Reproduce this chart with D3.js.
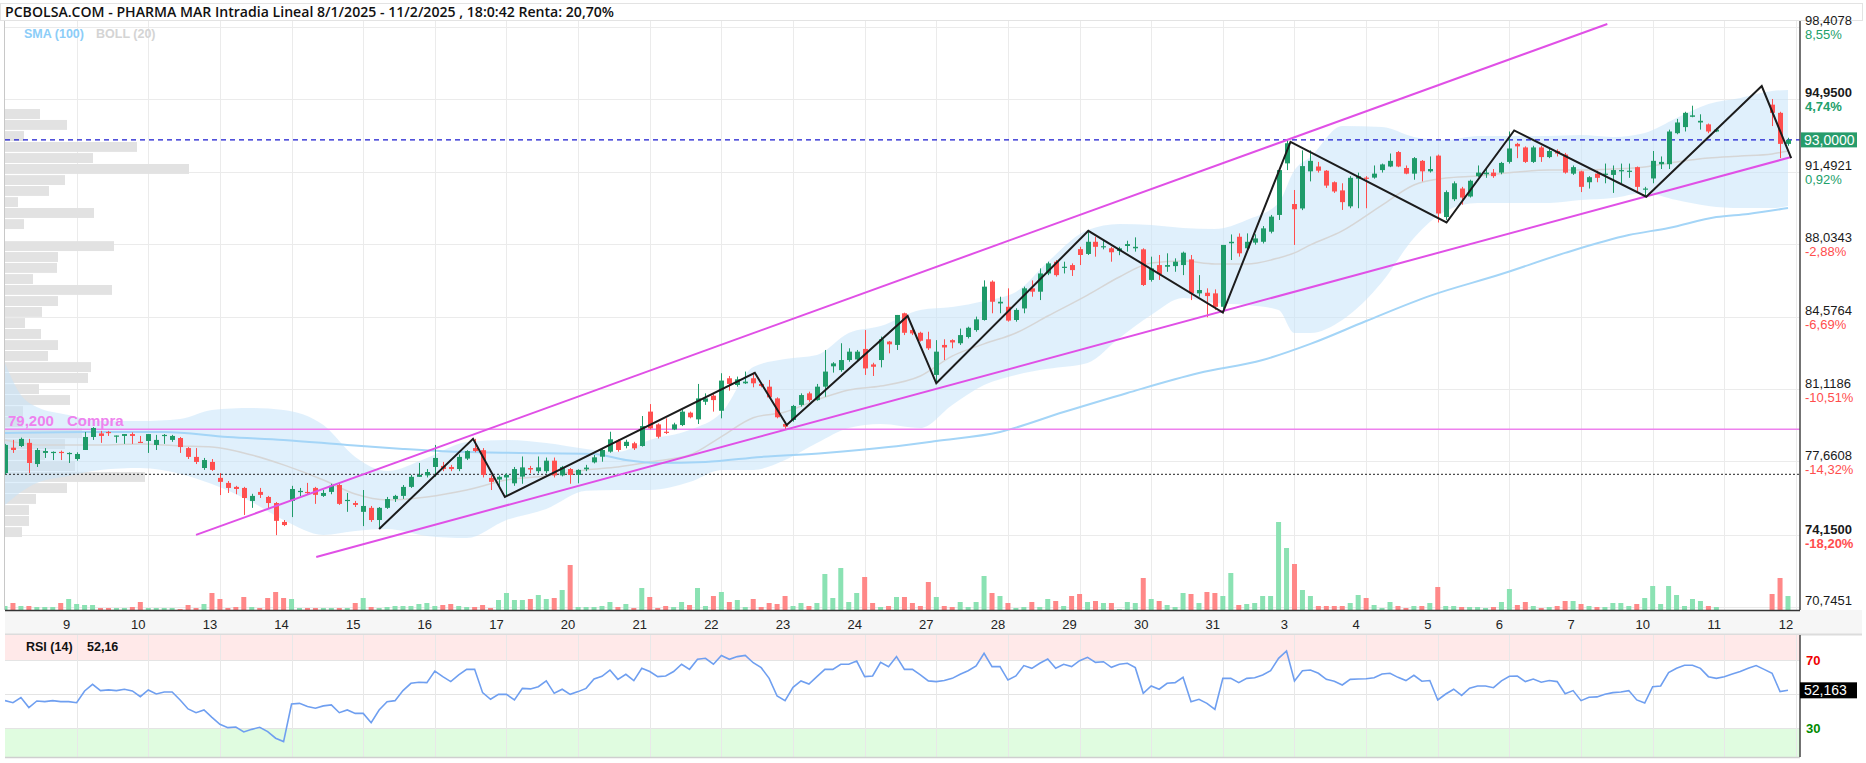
<!DOCTYPE html>
<html>
<head>
<meta charset="utf-8">
<script src="https://cdn.jsdelivr.net/npm/d3@7"></script>
<style>
  body { margin: 0; background: #fff; }
  svg { display: block; font-family: "Liberation Sans", Arial, sans-serif; }
</style>
</head>
<body>
<div id="container"><svg></svg></div>
<script>
// ---- data (hourly candles, 9 per session, 8/1/2025 .. 11/2/2025) ----
const dayLabels = ["9","10","13","14","15","16","17","20","21","22","23","24","27","28","29","30","31","3","4","5","6","7","10","11","12"];

const opens = [
  77.11,78.32,78.40,78.55,77.54,78.07,78.10,78.12,78.02,
  77.78,78.21,78.83,79.00,79.07,78.88,78.88,78.97,78.60,
  78.64,78.45,78.90,78.69,78.78,78.30,77.88,77.35,77.64,
  76.88,76.64,76.45,76.40,75.78,76.21,75.97,75.68,74.78,
  75.78,76.20,76.21,76.40,76.02,76.21,76.54,75.78,75.68,
  75.26,75.45,74.87,75.45,75.87,76.02,76.45,76.93,77.00,
  77.40,77.45,77.40,77.30,77.80,78.30,78.20,76.88,76.80,
  76.90,76.62,76.94,77.35,77.20,77.20,77.70,77.00,77.30,
  77.02,77.29,77.62,77.89,78.13,78.65,78.40,78.53,78.40,
  80.04,79.43,79.08,79.19,79.40,79.99,79.67,80.51,80.80,
  80.08,81.63,81.31,81.39,81.63,81.36,81.23,80.67,79.45,
  79.64,80.36,80.91,80.59,81.23,82.20,82.02,82.50,82.53,
  83.03,82.29,82.50,83.38,83.22,84.73,83.93,83.80,83.49,
  81.79,83.22,83.45,83.30,83.60,83.93,84.41,86.24,85.20,
  85.04,84.41,84.96,85.92,85.76,86.63,87.19,86.90,87.03,
  87.79,87.56,88.14,87.90,87.83,87.70,87.94,87.83,87.78,
  86.32,87.03,86.95,86.98,87.03,87.30,85.68,85.71,85.68,
  85.04,88.07,88.38,87.83,88.10,88.14,88.62,89.42,91.88,
  89.94,89.73,91.50,91.73,91.53,90.98,90.59,89.83,91.15,
  91.20,91.20,91.56,91.73,92.42,91.66,91.39,92.00,91.50,
  92.25,89.32,90.17,90.68,90.30,91.27,91.36,91.44,91.44,
  91.95,92.81,92.64,91.95,92.64,92.18,92.47,92.30,91.39,
  91.50,90.98,91.39,91.33,91.33,91.50,91.50,91.70,90.64,
  91.16,91.84,91.84,93.32,93.61,94.10,93.83,93.74,93.40,
  null,null,null,null,null,null,94.68,94.29,92.81
];
const highs = [
  78.50,78.69,78.80,78.74,78.30,78.30,78.14,78.18,78.10,
  78.10,79.07,79.30,79.12,79.12,78.90,78.97,79.05,78.88,
  78.97,78.93,78.97,78.93,78.83,78.35,78.30,77.83,77.78,
  77.11,76.73,76.50,76.45,76.12,76.40,76.02,75.73,74.87,
  76.50,76.40,76.64,76.45,76.30,76.60,76.64,76.16,75.78,
  76.30,75.54,75.49,75.97,76.07,76.54,77.02,77.59,77.30,
  78.45,77.64,77.50,78.00,78.20,78.74,78.30,77.00,77.00,
  77.10,77.40,77.90,77.45,77.90,77.85,77.85,77.45,77.35,
  77.29,77.50,77.97,78.29,79.08,78.72,78.70,78.60,79.83,
  80.40,79.48,79.72,79.51,80.12,80.04,81.36,80.91,80.91,
  81.87,81.74,81.71,81.95,81.90,81.42,81.55,80.72,79.56,
  80.36,80.91,80.99,81.36,82.98,82.40,83.30,83.06,82.98,
  83.93,82.37,83.62,83.41,84.65,84.76,84.00,83.85,83.85,
  83.45,83.49,83.49,84.00,84.09,84.57,86.30,86.30,85.52,
  85.92,84.97,86.00,86.30,86.87,87.19,87.27,87.19,87.11,
  87.90,88.62,88.38,88.25,87.90,87.90,88.19,88.35,87.83,
  87.43,87.51,87.59,87.35,87.67,87.51,86.55,85.92,85.87,
  87.99,88.49,88.54,88.54,88.50,88.89,89.42,91.64,93.00,
  90.61,92.50,92.50,91.95,91.56,91.02,90.93,91.27,91.44,
  91.27,91.78,91.87,92.35,92.47,91.78,92.18,92.04,92.21,
  92.30,90.59,91.02,90.76,91.10,91.78,91.61,91.61,91.95,
  93.40,92.86,92.69,92.72,92.72,92.59,92.55,92.38,91.78,
  91.53,91.27,91.53,91.87,91.78,91.87,91.87,91.73,90.76,
  92.47,92.21,93.49,94.00,94.34,94.63,94.22,93.78,93.57,
  null,null,null,null,null,null,94.95,94.34,93.10
];
const lows = [
  77.05,78.07,78.35,77.11,77.40,77.83,77.73,77.73,77.59,
  77.70,78.21,78.69,78.55,78.88,78.55,78.50,78.50,78.55,
  78.07,78.21,78.50,78.60,78.07,77.78,77.54,77.26,77.21,
  76.06,76.16,76.10,75.11,75.45,75.92,75.40,74.15,74.58,
  75.01,76.00,76.07,75.64,75.97,76.10,75.59,75.26,75.49,
  74.58,74.78,74.49,75.40,75.73,75.88,76.40,76.93,76.90,
  76.93,77.20,77.20,77.20,77.73,78.10,76.90,76.30,76.40,
  75.97,76.50,76.60,77.10,77.10,77.10,76.90,76.95,76.60,
  76.62,77.20,77.57,77.65,78.08,78.13,78.29,78.21,78.37,
  79.19,78.76,78.97,79.16,79.35,79.72,79.45,80.36,80.04,
  79.72,81.04,81.23,81.36,81.20,81.20,80.67,79.72,79.20,
  79.56,80.28,80.51,80.56,80.75,81.90,81.94,82.42,82.42,
  81.79,81.74,82.15,82.82,82.98,83.69,83.69,83.38,82.98,
  81.39,82.50,83.06,83.22,83.53,83.85,84.38,84.73,84.73,
  84.33,84.33,84.73,85.52,85.36,86.55,86.48,86.63,86.51,
  87.03,87.51,87.43,87.78,87.19,87.50,87.67,87.67,86.03,
  86.24,86.32,86.71,86.71,86.55,85.36,85.52,84.54,84.89,
  84.76,87.27,87.43,87.75,88.00,88.06,88.54,89.18,91.56,
  87.99,89.65,91.02,91.44,90.71,90.47,89.66,89.74,89.74,
  89.74,91.15,91.44,91.70,91.70,91.36,91.10,91.02,91.44,
  89.06,89.18,90.08,89.91,90.25,91.22,91.19,91.19,91.36,
  91.87,92.13,91.90,91.90,91.95,92.13,92.21,91.39,91.33,
  90.51,90.68,90.98,90.93,90.47,90.93,91.19,90.51,90.34,
  90.93,91.61,91.61,93.27,93.40,94.08,93.49,93.32,93.37,
  null,null,null,null,null,null,93.66,92.13,92.72
];
const closes = [
  78.45,78.21,78.74,77.59,78.21,78.16,78.12,78.10,78.07,
  78.02,78.83,79.26,78.88,79.04,78.90,78.97,78.88,78.59,
  78.97,78.69,78.93,78.88,78.35,77.88,77.64,77.73,77.26,
  76.69,76.40,76.35,75.92,76.02,76.07,75.68,74.83,74.63,
  76.35,76.26,76.16,76.07,76.16,76.50,75.64,75.83,75.59,
  75.54,74.87,75.45,75.87,76.02,76.45,76.93,77.02,77.16,
  77.83,77.30,77.30,77.88,78.16,78.16,77.02,76.69,76.93,
  77.02,77.30,77.38,77.28,77.38,77.70,77.00,77.40,77.02,
  77.26,77.37,77.86,78.21,78.72,78.21,78.60,78.29,79.35,
  79.24,78.84,79.03,79.43,80.04,79.77,80.67,80.67,80.59,
  81.52,81.36,81.58,81.47,81.39,81.26,80.72,79.77,79.32,
  80.31,80.83,80.59,81.23,81.95,82.34,82.50,82.90,82.90,
  82.10,82.18,83.49,83.25,84.65,83.80,83.77,83.42,83.06,
  82.90,83.10,83.34,83.69,84.04,84.44,86.00,85.28,85.28,
  84.38,84.89,85.92,85.76,86.63,87.11,86.55,86.95,86.79,
  87.51,88.14,87.90,87.93,87.64,87.83,88.03,87.90,86.08,
  86.87,86.60,87.03,87.19,87.62,85.68,85.84,85.55,85.04,
  87.99,88.14,87.59,88.14,88.30,88.78,89.34,91.56,92.84,
  89.69,91.75,92.00,91.53,90.82,90.54,90.03,91.19,91.27,
  91.15,91.39,91.83,92.00,91.73,91.39,92.13,91.50,91.61,
  89.49,90.51,90.93,90.25,91.05,91.44,91.44,91.27,91.90,
  92.59,92.69,91.95,92.64,92.18,92.47,92.35,91.44,91.70,
  90.76,91.22,91.19,91.39,91.56,91.56,91.53,90.76,90.68,
  92.00,91.95,93.40,93.83,94.29,94.17,93.91,93.40,93.49,
  null,null,null,null,null,null,94.29,92.81,93.00
];
const volumes = [
  4,7,4,4,3,3,3,7,11,
  6,5,5,2,2,2,2,3,8,
  2,2,2,2,1,5,2,6,17,
  11,2,3,13,3,2,12,18,12,
  11,2,2,2,2,2,2,2,7,
  12,3,2,3,4,4,4,6,7,
  4,5,6,4,3,3,5,2,10,
  17,10,10,11,15,11,12,20,45,
  3,3,3,4,8,3,6,2,22,
  13,2,4,3,8,5,22,4,14,
  18,8,10,3,11,3,7,6,14,
  4,7,4,7,36,12,42,8,17,
  33,7,3,4,13,13,7,4,28,
  13,4,3,8,3,8,34,17,14,
  7,2,3,8,3,11,9,4,14,
  16,8,9,7,7,1,8,7,32,
  11,9,5,3,17,16,7,18,17,
  14,37,5,6,7,14,14,88,62,
  46,20,14,4,4,4,4,7,15,
  12,5,2,8,4,2,4,4,7,
  23,4,4,3,3,3,2,3,8,
  21,5,8,4,2,3,4,9,9,
  6,4,3,3,7,7,4,6,12,
  24,6,24,15,4,11,9,4,3,
  null,null,null,null,null,null,16,32,14
];
const rsi = [
  46.1,44.9,47.9,42.0,45.9,45.5,46.1,45.5,45.5,
  44.9,51.8,55.7,52.0,52.4,52.0,52.8,51.8,48.4,
  52.4,50.0,51.2,51.2,46.5,41.2,39.0,40.6,36.3,
  32.2,30.2,30.6,27.7,29.2,30.4,27.9,24.0,22.0,
  44.1,44.5,42.6,41.6,43.0,43.6,39.0,40.6,38.6,
  38.6,33.1,40.6,45.5,46.1,52.0,56.3,56.9,56.7,
  63.5,60.2,57.3,61.2,64.5,64.5,50.8,46.9,49.8,
  49.8,46.5,53.3,53.0,54.3,57.7,50.4,52.8,49.8,
  51.4,53.3,58.8,60.4,64.1,58.6,61.6,57.9,65.1,
  63.2,60.2,60.6,63.2,67.5,64.5,70.4,71.0,67.5,
  72.6,70.4,72.0,72.7,68.4,65.5,59.2,48.8,46.1,
  53.9,57.7,55.9,60.2,64.5,64.5,67.5,67.5,69.4,
  60.2,60.6,68.6,66.1,72.0,64.5,64.5,61.2,57.7,
  57.3,57.9,59.2,61.6,63.7,66.5,73.9,66.1,66.1,
  58.2,60.6,66.7,65.1,68.1,70.6,65.1,67.5,66.1,
  69.6,71.6,68.6,69.0,65.7,67.5,68.1,65.5,50.4,
  54.7,52.8,56.3,56.7,59.8,45.5,46.9,44.5,41.0,
  59.2,59.2,56.7,59.2,59.6,61.2,63.7,71.0,75.3,
  57.7,63.7,64.1,62.2,58.6,57.5,55.3,58.6,58.8,
  59.0,59.6,61.8,62.2,59.8,57.9,61.0,57.5,57.9,
  46.5,50.0,52.8,49.2,53.4,54.7,54.7,53.7,57.7,
  60.4,60.6,57.3,58.8,56.9,57.9,57.3,50.2,52.0,
  46.1,48.1,48.3,49.8,50.8,51.2,52.0,46.5,44.7,
  54.3,54.7,62.6,65.1,66.9,66.9,65.1,60.2,59.2,
  60.2,61.8,63.2,65.1,66.7,64.5,62.2,51.4,52.16
];

// bollinger (20) and sma (100), read at sample bars
const bbIdx = [0,2,4,8,12,17,22,26,31,35,40,44,48,53,58,63,68,73,77,81,86,90,94,98,102,106,110,115,119,123,127,131,136,140,144,148,152,156,160,162,164,168,173,177,181,185,190,194,198,202,206,210,214,218,222,224];
const bbUpper = [82.36,80.83,80.26,79.88,79.59,79.59,79.69,80.12,80.21,80.12,79.40,77.88,77.21,77.83,78.59,78.69,78.54,78.26,78.12,78.69,79.16,79.98,82.17,82.55,82.74,83.79,84.12,84.89,85.03,85.32,85.75,87.18,88.70,88.99,88.94,88.80,88.75,89.18,89.99,91.56,92.18,93.66,93.61,93.14,92.99,93.19,93.19,93.19,93.23,93.14,93.33,94.04,94.71,95.00,95.33,95.38];
const bbMid = [78.69,78.54,78.45,78.45,78.45,78.50,78.40,78.35,77.97,77.50,76.78,76.11,75.83,75.97,76.30,76.78,76.97,77.26,77.40,77.64,77.97,78.85,79.75,80.02,80.60,81.07,81.26,81.74,82.69,83.27,83.79,84.60,85.60,86.46,87.13,87.22,87.08,87.08,87.37,87.61,87.99,88.66,89.89,90.85,91.18,91.28,91.47,91.56,91.56,91.61,91.71,91.95,92.14,92.23,92.33,92.47];
const bbLower = [75.59,76.21,76.64,76.97,77.26,77.35,77.07,76.59,75.73,74.87,74.16,74.35,74.44,74.11,74.01,74.87,75.40,76.26,76.30,76.30,76.68,77.26,77.26,77.73,78.54,79.26,79.45,79.26,80.36,81.31,81.79,82.08,82.36,83.55,84.65,85.46,85.22,85.13,84.89,83.79,83.79,84.41,86.22,88.32,89.61,89.99,89.99,89.99,90.13,90.23,90.47,90.13,89.85,89.75,89.75,89.85];
const smaIdx = [0,10,20,28,35,43,50,57,65,74,78,82,88,95,103,111,117,125,133,141,150,158,164,171,179,188,196,204,209,215,219,224];
const smaVal = [79.02,79.07,79.07,78.83,78.69,78.45,78.26,78.12,78.07,78.02,77.73,77.59,77.64,77.88,78.07,78.35,78.64,79.07,80.02,80.93,81.88,82.50,83.27,84.36,85.56,86.60,87.61,88.46,88.80,89.32,89.47,89.75];

// hand drawn lines
const zigIdx = [47,58.8,62.8,94.2,98.2,113.4,117,136.1,153,161.5,181.1,189.6,206.2,220.7,224.4];
const zigVal = [74.44,78.74,75.97,81.89,79.40,84.60,81.39,88.66,84.76,92.91,89.06,93.45,90.29,95.57,92.13];
const chanUpIdx = [24.0, 201.3], chanUpVal = [74.16, 98.53];
const chanLoIdx = [39.1, 224.4], chanLoVal = [73.11, 92.18];

// volume at price (left side)
const profLevels = [94.47,93.95,93.42,92.90,92.37,91.85,91.32,90.80,90.27,89.75,89.22,88.70,88.17,87.65,87.13,86.60,86.08,85.55,85.03,84.50,83.98,83.45,82.93,82.40,81.88,81.35,80.83,80.30,79.78,79.25,78.73,78.21,77.68,77.16,76.63,76.11,75.58,75.06,74.53];
const profVol = [35,62,19,132,88,184,60,44,13,89,19,0,109,53,52,28,107,53,37,20,36,53,43,86,83,34,65,18,18,77,60,40,70,140,62,31,24,24,17];

// price axis
const tickVals = [98.4078,94.95,91.4921,88.0343,84.5764,81.1186,77.6608,74.15,70.7451];
const tickText = ["98,4078","94,9500","91,4921","88,0343","84,5764","81,1186","77,6608","74,1500","70,7451"];
const tickPct = ["8,55%","4,74%","0,92%","-2,88%","-6,69%","-10,51%","-14,32%","-18,20%","-21,96%"];
const tickBold = [false,true,false,false,false,false,false,true,false];

const lastPrice = 93.0, buyLevel = 79.2, startPrice = 77.05, rsiLast = 52.163;
const title = "PCBOLSA.COM - PHARMA MAR Intradia Lineal 8/1/2025 - 11/2/2025 , 18:0:42 Renta: 20,70%";

// ---- layout ----
const width = 1866, height = 763;
const L = 5, R = 1800, T = 21, B = 610;
const rsiTop = 635, rsiBottom = 757;

let x = d3.scaleLinear().domain([0, 224]).range([5, 1788]);
let y = d3.scaleLinear().domain([70.7451, 98.4078]).range([606.5, 26.5]);
let yVol = d3.scaleLinear().domain([0, 88]).range([B, B - 88]);
let yRsi = d3.scaleLinear().domain([30, 70]).range([728, 660]);
let xProf = d3.scaleLinear().domain([0, 184]).range([L, L + 184]);

const upColor = '#1f9b69', downColor = '#ff4f4f';
const upVol = '#8be2b3', downVol = '#ff8888';

let svg = d3.select('#container').select('svg')
    .attr('width', width)
    .attr('height', height);

let defs = svg.append('defs');
defs.append('clipPath').attr('id', 'plot')
    .append('rect').attr('x', L).attr('y', T).attr('width', R - L).attr('height', B - T);
defs.append('clipPath').attr('id', 'rsiclip')
    .append('rect').attr('x', L).attr('y', rsiTop).attr('width', R - L).attr('height', rsiBottom - rsiTop);

// title strip
svg.append('rect')
    .attr('x', 0.5).attr('y', 3.5).attr('width', 1862).attr('height', 17)
    .attr('fill', '#fff').attr('stroke', '#e3e3e3');
svg.append('text')
    .attr('x', 5).attr('y', 17)
    .attr('font-family', '"Open Sans", "Noto Sans", sans-serif')
    .attr('font-weight', 600)
    .attr('font-size', 14.1)
    .attr('fill', '#111')
    .text(title);

// grid
let grid = svg.append('g').attr('stroke', '#ebebeb').attr('stroke-width', 1);
dayLabels.forEach((d, k) => {
    let gx = Math.round(x(9 * (k + 1))) + 0.5;
    grid.append('line').attr('x1', gx).attr('x2', gx).attr('y1', T).attr('y2', B);
});
tickVals.forEach(v => {
    let gy = Math.round(y(v)) + 0.5;
    grid.append('line').attr('x1', L).attr('x2', R).attr('y1', gy).attr('y2', gy);
});

// volume profile
let plot = svg.append('g').attr('clip-path', 'url(#plot)');
let binH = y(profLevels[1]) - y(profLevels[0]);
plot.append('g')
    .selectAll('rect')
    .data(profLevels)
    .join('rect')
    .attr('x', L)
    .attr('y', d => y(d))
    .attr('width', (d, i) => xProf(profVol[i]) - L)
    .attr('height', binH - 1)
    .attr('fill', '#e2e2e2');

// bollinger band
let bb = bbIdx.map((d, i) => ({ i: d, u: bbUpper[i], m: bbMid[i], l: bbLower[i] }));
plot.append('path')
    .datum(bb)
    .attr('fill', '#c6e4f9')
    .attr('fill-opacity', 0.55)
    .attr('d', d3.area().x(d => x(d.i)).y0(d => y(d.l)).y1(d => y(d.u)).curve(d3.curveMonotoneX));
plot.append('path')
    .datum(bb)
    .attr('fill', 'none')
    .attr('stroke', '#d6d6d6')
    .attr('stroke-width', 1.5)
    .attr('d', d3.line().x(d => x(d.i)).y(d => y(d.m)).curve(d3.curveMonotoneX));

// sma 100
plot.append('path')
    .datum(smaIdx.map((d, i) => ({ i: d, v: smaVal[i] })))
    .attr('fill', 'none')
    .attr('stroke', '#a4d5f7')
    .attr('stroke-width', 2)
    .attr('d', d3.line().x(d => x(d.i)).y(d => y(d.v)).curve(d3.curveMonotoneX));

// level lines
plot.append('line')
    .attr('x1', L).attr('x2', R).attr('y1', y(buyLevel)).attr('y2', y(buyLevel))
    .attr('stroke', '#ee82ee').attr('stroke-width', 1.5);
plot.append('line')
    .attr('x1', L).attr('x2', R).attr('y1', y(startPrice)).attr('y2', y(startPrice))
    .attr('stroke', '#222').attr('stroke-width', 1).attr('stroke-dasharray', '2,2');
plot.append('line')
    .attr('x1', L).attr('x2', R).attr('y1', y(lastPrice)).attr('y2', y(lastPrice))
    .attr('stroke', '#1a1ad0').attr('stroke-width', 1.2).attr('stroke-dasharray', '5,4');

// volume bars
let bars = d3.range(opens.length).filter(i => opens[i] != null);
plot.append('g')
    .selectAll('rect')
    .data(bars)
    .join('rect')
    .attr('x', i => x(i) - 2.5)
    .attr('y', i => yVol(volumes[i]))
    .attr('width', 5)
    .attr('height', i => B - yVol(volumes[i]))
    .attr('fill', i => closes[i] >= opens[i] ? upVol : downVol);

// candles
let candle = plot.append('g')
    .selectAll('g')
    .data(bars)
    .join('g');
candle.append('line')
    .attr('x1', i => Math.round(x(i)) + 0.5)
    .attr('x2', i => Math.round(x(i)) + 0.5)
    .attr('y1', i => y(Math.max(highs[i], opens[i], closes[i])))
    .attr('y2', i => y(Math.min(lows[i], opens[i], closes[i])))
    .attr('stroke', i => closes[i] >= opens[i] ? upColor : downColor)
    .attr('stroke-width', 1);
candle.append('rect')
    .attr('x', i => Math.round(x(i)) - 2)
    .attr('y', i => y(Math.max(opens[i], closes[i])))
    .attr('width', 5)
    .attr('height', i => Math.max(1.2, Math.abs(y(opens[i]) - y(closes[i]))))
    .attr('fill', i => closes[i] >= opens[i] ? upColor : downColor);

// channel
[[chanUpIdx, chanUpVal], [chanLoIdx, chanLoVal]].forEach(c => {
    plot.append('line')
        .attr('x1', x(c[0][0])).attr('y1', y(c[1][0]))
        .attr('x2', x(c[0][1])).attr('y2', y(c[1][1]))
        .attr('stroke', '#e050e6').attr('stroke-width', 2);
});

// zigzag
plot.append('path')
    .datum(zigIdx.map((d, i) => ({ i: d, v: zigVal[i] })))
    .attr('fill', 'none')
    .attr('stroke', '#1c1c1c')
    .attr('stroke-width', 2)
    .attr('d', d3.line().x(d => x(d.i)).y(d => y(d.v)));

// labels inside plot
svg.append('text').attr('x', 24).attr('y', 38)
    .attr('font-size', 12.5).attr('font-weight', 'bold').attr('fill', '#8ccdf8').text('SMA (100)');
svg.append('text').attr('x', 96).attr('y', 38)
    .attr('font-size', 12.5).attr('font-weight', 'bold').attr('fill', '#d4d4d4').text('BOLL (20)');
svg.append('text').attr('x', 8).attr('y', y(buyLevel) - 3)
    .attr('font-size', 15).attr('font-weight', 'bold').attr('fill', '#ee82ee')
    .text(d3.format('.3f')(buyLevel).replace('.', ','));
svg.append('text').attr('x', 67).attr('y', y(buyLevel) - 3)
    .attr('font-size', 15).attr('font-weight', 'bold').attr('fill', '#ee82ee').text('Compra');

// frame of main panel
svg.append('line').attr('x1', L - 0.5).attr('x2', L - 0.5).attr('y1', T).attr('y2', B).attr('stroke', '#c8c8c8');
svg.append('line').attr('x1', R).attr('x2', R).attr('y1', T).attr('y2', B).attr('stroke', '#444').attr('stroke-width', 1.5);

// right price axis
let axisG = svg.append('g');
tickVals.forEach((v, k) => {
    let gy = y(v);
    axisG.append('text')
        .attr('x', 1805).attr('y', gy - 1.5)
        .attr('font-size', 13).attr('fill', '#1a1a1a')
        .attr('font-weight', tickBold[k] ? 'bold' : 'normal')
        .text(tickText[k]);
    axisG.append('text')
        .attr('x', 1805).attr('y', gy + 12.5)
        .attr('font-size', 13)
        .attr('font-weight', tickBold[k] ? 'bold' : 'normal')
        .attr('fill', tickPct[k][0] == '-' ? '#ff4d4d' : '#21a06a')
        .text(tickPct[k]);
});
axisG.append('rect')
    .attr('x', 1801).attr('y', y(lastPrice) - 7.5).attr('width', 56).attr('height', 15)
    .attr('fill', '#279c6b');
axisG.append('text')
    .attr('x', 1804).attr('y', y(lastPrice) + 5)
    .attr('font-size', 14).attr('fill', '#fff')
    .text(d3.format('.4f')(lastPrice).replace('.', ','));

// time axis strip
svg.append('rect').attr('x', L).attr('y', B).attr('width', 1862 - L).attr('height', 24).attr('fill', '#f6f6f6');
svg.append('line').attr('x1', L).attr('x2', 1862).attr('y1', B + 24.5).attr('y2', B + 24.5).attr('stroke', '#dcdcdc').attr('stroke-width', 2);
svg.append('line').attr('x1', L).attr('x2', R).attr('y1', B + 0.5).attr('y2', B + 0.5).attr('stroke', '#333').attr('stroke-width', 1.5);
svg.append('g')
    .selectAll('text')
    .data(dayLabels)
    .join('text')
    .attr('x', (d, k) => x(9 * (k + 1)) - 10)
    .attr('y', 629)
    .attr('text-anchor', 'middle')
    .attr('font-size', 13)
    .attr('fill', '#222')
    .text(d => d);

// ---- RSI panel ----
let rsiG = svg.append('g');
rsiG.append('rect').attr('x', L).attr('y', rsiTop).attr('width', R - L).attr('height', yRsi(70) - rsiTop).attr('fill', '#ffe9e9');
rsiG.append('rect').attr('x', L).attr('y', yRsi(30)).attr('width', R - L).attr('height', rsiBottom - yRsi(30)).attr('fill', '#e0fce0');
[70, 50, 30].forEach(v => {
    rsiG.append('line').attr('x1', L).attr('x2', R)
        .attr('y1', Math.round(yRsi(v)) + 0.5).attr('y2', Math.round(yRsi(v)) + 0.5)
        .attr('stroke', '#e4e4e4');
});
// vertical grid over the bands
dayLabels.forEach((d, k) => {
    let gx = Math.round(x(9 * (k + 1))) + 0.5;
    rsiG.append('line').attr('x1', gx).attr('x2', gx).attr('y1', rsiTop).attr('y2', rsiBottom).attr('stroke', '#e8e8e8');
});
rsiG.append('path')
    .datum(d3.range(rsi.length))
    .attr('clip-path', 'url(#rsiclip)')
    .attr('fill', 'none')
    .attr('stroke', '#6f9ff0')
    .attr('stroke-width', 1.6)
    .attr('d', d3.line().x(i => x(i)).y(i => yRsi(rsi[i])));
rsiG.append('line').attr('x1', L).attr('x2', R).attr('y1', rsiBottom + 0.5).attr('y2', rsiBottom + 0.5).attr('stroke', '#cfcfcf').attr('stroke-width', 1.5);
rsiG.append('line').attr('x1', R).attr('x2', R).attr('y1', rsiTop).attr('y2', rsiBottom).attr('stroke', '#444').attr('stroke-width', 1.5);
rsiG.append('text').attr('x', 26).attr('y', 651)
    .attr('font-size', 12.5).attr('font-weight', 'bold').attr('fill', '#111').text('RSI (14)');
rsiG.append('text').attr('x', 87).attr('y', 651)
    .attr('font-size', 12.5).attr('font-weight', 'bold').attr('fill', '#111')
    .text(d3.format('.2f')(rsiLast).replace('.', ','));
rsiG.append('text').attr('x', 1806).attr('y', yRsi(70) + 4.5)
    .attr('font-size', 13).attr('font-weight', 'bold').attr('fill', '#ee0000').text('70');
rsiG.append('text').attr('x', 1806).attr('y', yRsi(30) + 4.5)
    .attr('font-size', 13).attr('font-weight', 'bold').attr('fill', '#008a00').text('30');
rsiG.append('rect')
    .attr('x', 1800).attr('y', yRsi(rsiLast) - 8).attr('width', 57).attr('height', 16)
    .attr('fill', '#000');
rsiG.append('text')
    .attr('x', 1804).attr('y', yRsi(rsiLast) + 5)
    .attr('font-size', 14).attr('fill', '#fff')
    .text(d3.format('.3f')(rsiLast).replace('.', ','));
</script>
</body>
</html>
